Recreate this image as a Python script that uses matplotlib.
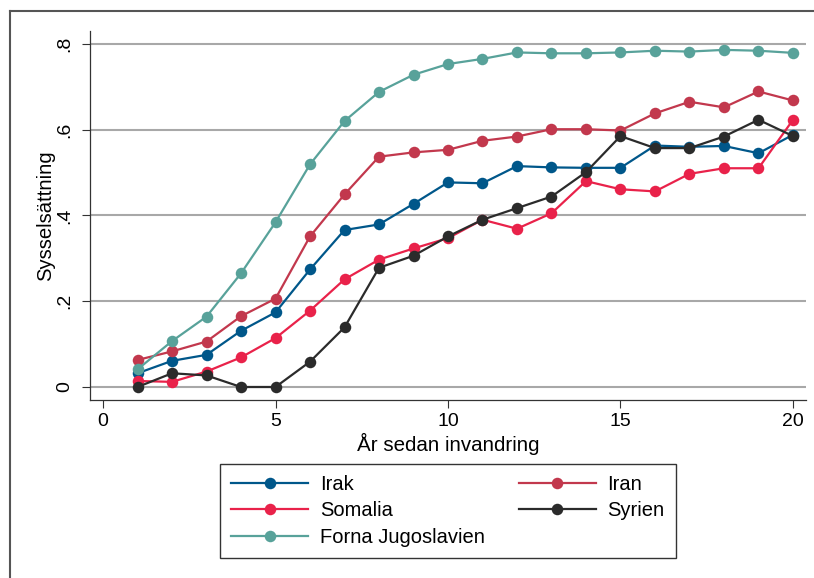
import matplotlib
matplotlib.use("Agg")
from matplotlib import pyplot as plt
from matplotlib.lines import Line2D

plt.rcParams['font.family'] = ['Liberation Sans', 'DejaVu Sans']

years = list(range(1, 21))

irak = [0.032, 0.061, 0.075, 0.131, 0.174, 0.274, 0.366, 0.379, 0.427, 0.477,
        0.475, 0.515, 0.512, 0.511, 0.511, 0.563, 0.560, 0.562, 0.545, 0.588]
iran = [0.063, 0.083, 0.106, 0.165, 0.206, 0.351, 0.449, 0.537, 0.547, 0.553,
        0.574, 0.584, 0.601, 0.601, 0.598, 0.638, 0.665, 0.652, 0.689, 0.668]
somalia = [0.014, 0.012, 0.036, 0.069, 0.114, 0.178, 0.251, 0.297, 0.323, 0.347,
           0.390, 0.369, 0.405, 0.480, 0.461, 0.456, 0.497, 0.510, 0.510, 0.623]
syrien = [0.0, 0.032, 0.027, 0.0, 0.0, 0.059, 0.139, 0.278, 0.306, 0.351,
          0.390, 0.417, 0.444, 0.501, 0.585, 0.557, 0.557, 0.584, 0.623, 0.585]
jugoslavien = [0.041, 0.107, 0.164, 0.265, 0.384, 0.519, 0.620, 0.688, 0.728, 0.753,
               0.765, 0.780, 0.778, 0.778, 0.780, 0.784, 0.782, 0.786, 0.784, 0.779]

series = [
    ("Irak", irak, "#00578a"),
    ("Iran", iran, "#c2384d"),
    ("Somalia", somalia, "#e9224a"),
    ("Forna Jugoslavien", jugoslavien, "#58a29a"),
    ("Syrien", syrien, "#2b2b2b"),
]

yticks = [0, 0.2, 0.4, 0.6, 0.8]
ytick_labels = ["0", ".2", ".4", ".6", ".8"]
xticks = [0, 5, 10, 15, 20]

W, H = 814, 578
fig = plt.figure(figsize=(W / 100, H / 100), dpi=100)
ax = fig.add_axes([90 / W, 1 - 400 / H, 716 / W, 369 / H])

handles = {}
for name, vals, color in series:
    (ln,) = ax.plot(years, vals, color=color, lw=1.6, marker="o",
                    markersize=8.3, markeredgewidth=0, label=name)
    handles[name] = ln

ax.set_xlim(-0.377, 20.377)
ax.set_ylim(-0.0303, 0.830)
ax.set_yticks(yticks)
ax.set_yticklabels(ytick_labels, rotation=90, va="center")
ax.set_xticks(xticks)
ax.tick_params(axis="both", labelsize=14, length=6, width=0.8, color="#333333")
ax.tick_params(axis="y", pad=6)

ax.yaxis.grid(True, color="#a8a8a8", lw=1.5)
ax.set_axisbelow(True)
for s in ["top", "right"]:
    ax.spines[s].set_visible(False)
for s in ["left", "bottom"]:
    ax.spines[s].set_color("#333333")
    ax.spines[s].set_linewidth(0.9)

ax.set_xlabel("År sedan invandring", fontsize=14.8, labelpad=2)
ax.set_ylabel("Sysselsättning", fontsize=14.6, labelpad=1)

order = ["Irak", "Somalia", "Forna Jugoslavien", "Iran", "Syrien"]
leg = fig.legend([handles[n] for n in order], order, ncol=2,
                 loc="center", bbox_to_anchor=(448 / W, 1 - 511 / H),
                 fontsize=14.5, frameon=True, fancybox=False, edgecolor="black",
                 handlelength=3.8, handletextpad=0.6, columnspacing=1.7,
                 labelspacing=0.38, borderpad=0.55)
leg.get_frame().set_linewidth(1.0)

# outer frame of the graph region
fig.add_artist(Line2D([10 / W, 10 / W], [0, 1 - 11 / H], color="#555555", lw=1.5,
                      transform=fig.transFigure))
fig.add_artist(Line2D([10 / W, 1], [1 - 11 / H, 1 - 11 / H], color="#555555", lw=1.5,
                      transform=fig.transFigure))

fig.savefig("out.png", dpi=100)
